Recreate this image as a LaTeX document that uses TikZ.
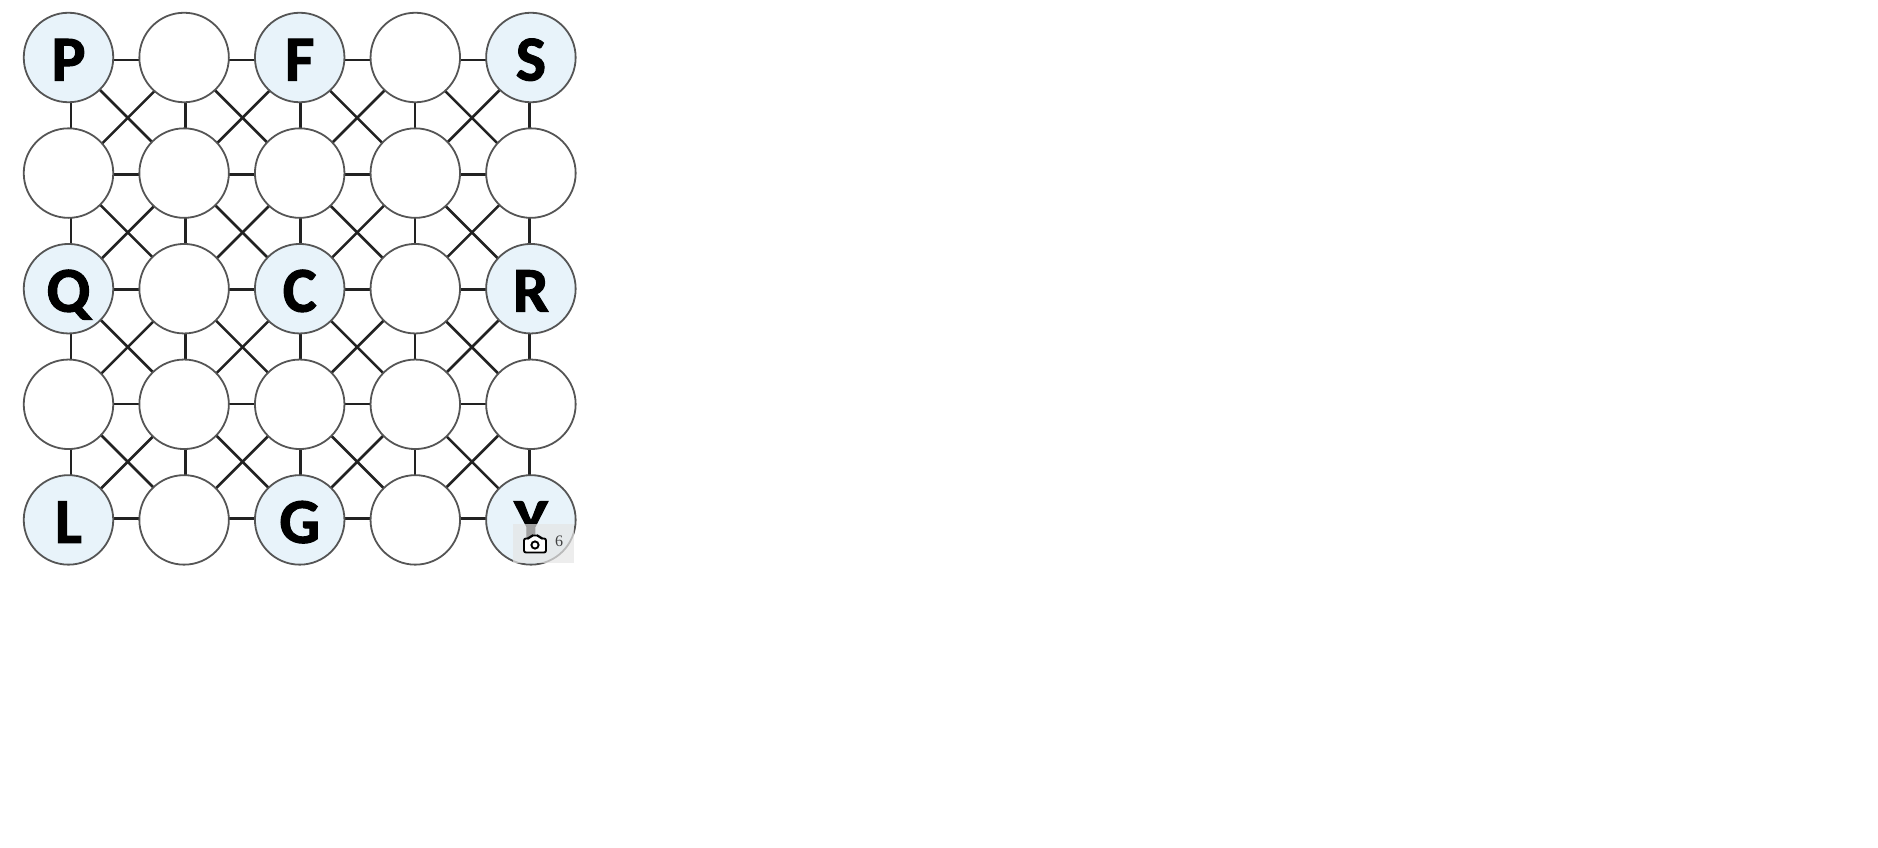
\documentclass[tikz,border=0pt]{standalone}
\usepackage{fontspec}
\setmainfont{Liberation Serif}
\newfontfamily\letterfont[BoldFeatures={FakeBold=1.6}]{Carlito}
\usetikzlibrary{backgrounds}

\definecolor{spotblue}{HTML}{E8F3FA}
\definecolor{rimgrey}{HTML}{555555}
\definecolor{linkdark}{HTML}{222222}

\tikzset{
    spot/.style={circle, draw=rimgrey, line width=1.8pt, fill=white, minimum size=89.5pt, inner sep=0pt},
    lettered/.style={spot, fill=spotblue, font=\letterfont\bfseries\fontsize{64}{64}\selectfont,
        text height=46pt, text depth=0pt, text=black},
    link/.style={line width=2.6pt, linkdark},
    badge/.style={fill=black!10, fill opacity=0.7, draw=none},
}

\begin{document}
\begin{tikzpicture}[x=1pt, y=-1pt]

    % Page size
    \useasboundingbox (0,0) rectangle (1878,848);

    % Geometry
    \def\pitch{115.6}
    \def\ox{68.5}
    \def\oy{57.5}

    % Plain circles
    \foreach \c/\r in {1/0,3/0,0/1,1/1,2/1,3/1,4/1,1/2,3/2,0/3,1/3,2/3,3/3,4/3,1/4,3/4} {
        \node[spot] (n\c\r) at ({\ox+\c*\pitch},{\oy+\r*\pitch}) {};
    }

    % Lettered circles
    \foreach \c/\r/\lab in {0/0/P,2/0/F,4/0/S,0/2/Q,2/2/C,4/2/R,0/4/L,2/4/G,4/4/Y} {
        \node[lettered] (n\c\r) at ({\ox+\c*\pitch},{\oy+\r*\pitch}) {\lab};
    }

    % Links behind the circles, their grid is a little tighter than the circles
    \begin{pgfonlayer}{background}
        \foreach \c in {0,...,4} {
            \foreach \r in {0,...,3} {
                \pgfmathtruncatemacro{\rr}{\r+1}
                \draw[link] ([xshift={2.5pt-\c*1pt}]n\c\r.center) -- ([xshift={2.5pt-\c*1pt}]n\c\rr.center);  % vertical
                \draw[link] ([yshift={-2.5pt+\c*1pt}]n\r\c.center) -- ([yshift={-2.5pt+\c*1pt}]n\rr\c.center);  % horizontal
            }
        }
        \foreach \c in {0,...,3} {
            \foreach \r in {0,...,3} {
                \pgfmathtruncatemacro{\cc}{\c+1}
                \pgfmathtruncatemacro{\rr}{\r+1}
                \draw[link] ([shift={({1.5-0.9*\c},{2.5-0.95*\r})}]n\c\r.center) -- ([shift={({1.5-0.9*\c},{2.5-0.95*\r})}]n\cc\rr.center);
                \draw[link] ([shift={({1.5-0.9*\c},{2.5-0.95*\r})}]n\cc\r.center) -- ([shift={({1.5-0.9*\c},{2.5-0.95*\r})}]n\c\rr.center);
            }
        }
    \end{pgfonlayer}

    % Photo count badge
    \fill[badge] (513,524) rectangle (574,563);
    \filldraw[fill=white, draw=black, line width=1.9pt, rounded corners=2pt]
        (524,538.5) -- (529.5,538.5) -- (531,535.5) -- (539,535.5) -- (540.5,538.5) -- (546,538.5)
        -- (546,552.5) -- (524,552.5) -- cycle;
    \draw[black, line width=1.9pt] (535,545) circle (3.6);
    \node[font=\fontsize{16}{16}\selectfont, text=black!75, inner sep=0pt] (count) at (559,541) {6};

\end{tikzpicture}
\end{document}
